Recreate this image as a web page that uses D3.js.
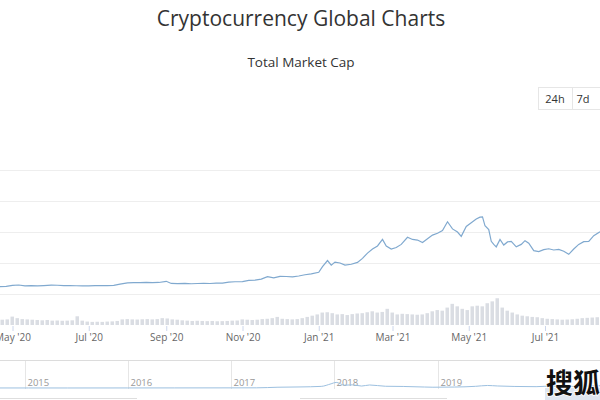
<!DOCTYPE html>
<html>
<head>
<meta charset="utf-8">
<script src="https://cdn.jsdelivr.net/npm/d3@7"></script>
<style>
  body { margin: 0; background: #fff; }
  svg { display: block; font-family: "Open Sans", "Noto Sans", sans-serif; }
</style>
</head>
<body>
<svg id="chart" width="600" height="400"></svg>
<script>
// total market cap, $B
const capDates = [
  "2020-04-21","2020-04-26","2020-05-01","2020-05-06","2020-05-11","2020-05-16","2020-05-21","2020-05-26",
  "2020-06-01","2020-06-06","2020-06-11","2020-06-16","2020-06-21","2020-06-26","2020-07-01","2020-07-06",
  "2020-07-11","2020-07-16","2020-07-21","2020-07-26","2020-08-01","2020-08-06","2020-08-11","2020-08-16",
  "2020-08-21","2020-08-26","2020-09-01","2020-09-05","2020-09-10","2020-09-16","2020-09-21","2020-09-26",
  "2020-10-01","2020-10-06","2020-10-11","2020-10-16","2020-10-21","2020-10-26","2020-11-01","2020-11-06",
  "2020-11-11","2020-11-16","2020-11-21","2020-11-26","2020-12-01","2020-12-06","2020-12-11","2020-12-16",
  "2020-12-21","2020-12-26","2021-01-01","2021-01-04","2021-01-08","2021-01-11","2021-01-14","2021-01-18",
  "2021-01-22","2021-01-27","2021-02-01","2021-02-05","2021-02-09","2021-02-13","2021-02-17","2021-02-21",
  "2021-02-24","2021-02-28","2021-03-04","2021-03-08","2021-03-13","2021-03-17","2021-03-21","2021-03-25",
  "2021-03-29","2021-04-02","2021-04-06","2021-04-10","2021-04-14","2021-04-18","2021-04-22","2021-04-25",
  "2021-04-29","2021-05-03","2021-05-07","2021-05-10","2021-05-12","2021-05-14","2021-05-17","2021-05-19",
  "2021-05-21","2021-05-23","2021-05-26","2021-05-29","2021-06-01","2021-06-04","2021-06-08","2021-06-12",
  "2021-06-15","2021-06-18","2021-06-22","2021-06-26","2021-06-30","2021-07-04","2021-07-08","2021-07-12",
  "2021-07-16","2021-07-20","2021-07-24","2021-07-28","2021-08-01","2021-08-05","2021-08-09","2021-08-14"
];
const capValues = [
  236, 245, 280, 290, 262, 270, 265, 272,
  285, 282, 270, 268, 266, 262, 262, 268,
  270, 272, 280, 320, 360, 365, 370, 378,
  370, 372, 410, 340, 335, 345, 330, 338,
  340, 338, 350, 352, 380, 395, 400, 440,
  450, 480, 560, 520, 570, 565, 550, 580,
  620, 650, 700, 880, 1080, 930, 1030, 1000,
  930, 960, 1020, 1150, 1320, 1450, 1550, 1760,
  1550, 1450, 1500, 1600, 1830, 1760, 1740, 1660,
  1780, 1900, 1960, 2050, 2330, 2100, 2000, 1860,
  2180, 2300, 2420, 2480, 2490, 2200, 2080, 1700,
  1600, 1520, 1760, 1580, 1680, 1700, 1520, 1600,
  1720, 1640, 1400, 1370, 1430, 1460, 1420, 1440,
  1380, 1280, 1450, 1600, 1690, 1700, 1880, 2010
];

// 24h volume, $B, one bar every 4 days from the first date
const volumeStart = "2020-04-21";
const volumeValues = [
  85, 90, 135, 110, 95, 90, 85, 80, 75, 80,
  70, 72, 68, 70, 75, 140, 70, 55, 50, 52,
  50, 55, 58, 65, 90, 95, 90, 88, 92, 95,
  90, 95, 110, 105, 90, 85, 75, 70, 65, 68,
  65, 62, 65, 60, 62, 65, 70, 72, 90, 85,
  80, 85, 95, 100, 110, 130, 100, 95, 90, 95,
  110, 130, 150, 170, 200, 205, 190, 170, 175, 160,
  175, 185, 190, 205, 220, 200, 210, 260, 200, 170,
  180, 175, 170, 165, 170, 190, 220, 240, 230, 280,
  340, 300, 260, 240, 300, 310, 300, 350, 380, 430,
  280, 230, 200, 170, 150, 140, 130, 125, 110, 100,
  95, 90, 85, 88, 92, 100, 110, 115, 120, 125
];

const xTickDates = ["2020-05-01","2020-07-01","2020-09-01","2020-11-01","2021-01-01","2021-03-01","2021-05-01","2021-07-01"];
const xTickLabels = ["May '20","Jul '20","Sep '20","Nov '20","Jan '21","Mar '21","May '21","Jul '21"];
const capTicks = [0, 1000, 2000, 3000, 4000];

// navigator: long-run market cap, $B
const navDates = [
  "2014-10-01","2015-01-15","2015-06-01","2016-01-01","2016-06-15","2017-01-01","2017-04-01","2017-06-15",
  "2017-09-01","2017-11-15","2017-12-20","2018-01-07","2018-02-06","2018-03-05","2018-04-07","2018-05-05",
  "2018-06-30","2018-09-01","2018-11-15","2018-12-15","2019-03-01","2019-05-15","2019-06-26","2019-08-01",
  "2019-10-01","2019-12-15","2020-02-15","2020-03-15","2020-05-01","2020-07-31"
];
const navValues = [
  6, 5, 4, 7, 12, 18, 25, 110,
  150, 230, 600, 800, 400, 450, 280, 430,
  250, 220, 140, 110, 135, 240, 360, 290,
  220, 190, 290, 160, 240, 320
];
const navYears = ["2015","2016","2017","2018","2019"];
const buttons = ["24h", "7d"];

const parse = d3.timeParse("%Y-%m-%d");
const svg = d3.select("#chart");
const W = 600;

// title block
svg.append("text").attr("x", 301).attr("y", 26).attr("text-anchor", "middle")
  .attr("font-size", 21).attr("fill", "#333").text("Cryptocurrency Global Charts");
svg.append("text").attr("x", 301).attr("y", 67).attr("text-anchor", "middle")
  .attr("font-size", 13.5).attr("fill", "#333").text("Total Market Cap");

// range buttons
const btn = svg.append("g");
buttons.forEach((b, i) => {
  const bx = i == 0 ? 538 : 572;
  const bw = i == 0 ? 34 : 40;
  btn.append("rect").attr("x", bx + 0.5).attr("y", 87.5).attr("width", bw).attr("height", 22)
    .attr("fill", "#fff").attr("stroke", "#e6e6e6");
  btn.append("text").attr("x", bx + (i == 0 ? 17 : 11)).attr("y", 102.5).attr("text-anchor", "middle")
    .attr("font-size", 11).attr("fill", "#333").text(b);
});

// scales
const x = d3.scaleTime().domain([parse("2020-04-21"), parse("2021-08-14")]).range([0, W]);
const y = d3.scaleLinear().domain([0, 4000]).range([294, 170]);
const yVol = d3.scaleLinear().domain([0, 450]).range([325, 297]);

// gridlines
svg.append("g").selectAll("line").data(capTicks).join("line")
  .attr("x1", 0).attr("x2", W)
  .attr("y1", d => Math.round(y(d)) + 0.5).attr("y2", d => Math.round(y(d)) + 0.5)
  .attr("stroke", "#eeeeee");

// volume bars
const volData = volumeValues.map((v, i) => ({ date: d3.timeDay.offset(parse(volumeStart), i * 4), v: v }));
const barW = x(d3.timeDay.offset(parse(volumeStart), 4)) - x(parse(volumeStart));
svg.append("g").selectAll("rect").data(volData).join("rect")
  .attr("x", d => x(d.date) + 0.5)
  .attr("y", d => yVol(d.v))
  .attr("width", barW - 1.5)
  .attr("height", d => yVol(0) - yVol(d.v))
  .attr("fill", "#dadde3");

// price line
const capData = capDates.map((d, i) => ({ date: parse(d), v: capValues[i] }));
const line = d3.line().x(d => x(d.date)).y(d => y(d.v));
svg.append("path").datum(capData)
  .attr("d", line)
  .attr("fill", "none")
  .attr("stroke", "#80a9cf")
  .attr("stroke-width", 1.2);

// x axis
const xAxis = d3.axisBottom(x)
  .tickValues(xTickDates.map(parse))
  .tickFormat((d, i) => xTickLabels[i])
  .tickSize(5).tickSizeOuter(0);
const gx = svg.append("g").attr("transform", "translate(0,326)").call(xAxis);
gx.select(".domain").remove();
gx.selectAll(".tick line").attr("stroke", "#ccd6eb");
gx.selectAll(".tick text").attr("fill", "#666").attr("font-size", 10)
  .attr("font-family", "\"Open Sans\", sans-serif");

// navigator
const xNav = d3.scaleTime().domain([parse("2014-10-06"), parse("2020-07-28")]).range([0, W]);
const yNav = d3.scaleLinear().domain([0, 4000]).range([388, 360]);
svg.append("line").attr("x1", 0).attr("x2", W).attr("y1", 360.5).attr("y2", 360.5).attr("stroke", "#dcdcdc");
const navG = svg.append("g");
navYears.forEach(yr => {
  const nx = Math.round(xNav(parse(yr + "-01-01"))) + 0.5;
  navG.append("line").attr("x1", nx).attr("x2", nx).attr("y1", 361).attr("y2", 389).attr("stroke", "#e6e6e6");
  navG.append("text").attr("x", nx + 2).attr("y", 386).attr("font-size", 9.5).attr("fill", "#999").text(yr);
});
const navData = navDates.map((d, i) => ({ date: parse(d), v: navValues[i] }));
svg.append("path").datum(navData)
  .attr("d", d3.line().x(d => xNav(d.date)).y(d => yNav(d.v)).curve(d3.curveMonotoneX))
  .attr("fill", "none").attr("stroke", "#9cc0e0").attr("stroke-width", 1);

// scrollbar edge
svg.append("line").attr("x1", 0).attr("x2", 137).attr("y1", 398.5).attr("y2", 398.5).attr("stroke", "#dedede");
svg.append("line").attr("x1", 300).attr("x2", 447).attr("y1", 398.5).attr("y2", 398.5).attr("stroke", "#dedede");

// source watermark
svg.append("rect").attr("x", 545).attr("y", 388).attr("width", 55).attr("height", 12).attr("fill", "#dfe6f0");
svg.append("text").attr("x", 546).attr("y", 393).attr("font-size", 27).attr("font-weight", "bold")
  .attr("font-family", "\"Noto Sans CJK SC\", sans-serif")
  .attr("fill", "#111").attr("stroke", "#fff").attr("stroke-width", 1.5).attr("paint-order", "stroke")
  .text("搜狐");
</script>
</body>
</html>
